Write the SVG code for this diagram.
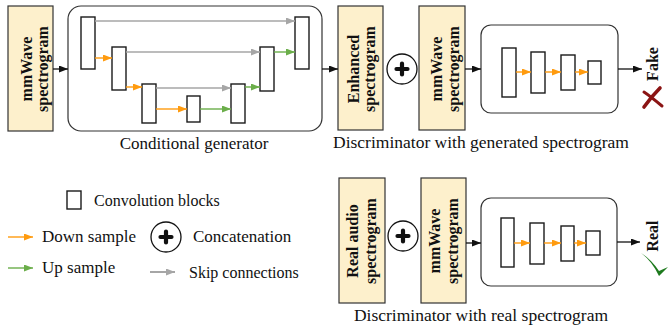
<svg xmlns="http://www.w3.org/2000/svg" width="668" height="329" viewBox="0 0 668 329">
<style>
.spec{fill:#FDF0CC;stroke:#333;stroke-width:1.2}
.frame{fill:#fff;stroke:#333;stroke-width:1.2}
.blk{fill:#fff;stroke:#1a1a1a;stroke-width:1.4}
.lbl{font-family:"Liberation Serif",serif;font-weight:bold;font-size:16px;fill:#111;text-anchor:middle}
.cap{font-family:"Liberation Serif",serif;font-size:17px;fill:#111}
.leg{font-family:"Liberation Serif",serif;font-size:16.5px;fill:#111}
.blk-c{fill:#fff;stroke:#1a1a1a;stroke-width:1.3}
.or{stroke:#FF9B0F;stroke-width:1.4;fill:none;marker-end:url(#mo)}
.gr{stroke:#6BAE4A;stroke-width:1.4;fill:none;marker-end:url(#mg)}
.gy{stroke:#A6A6A6;stroke-width:1.4;fill:none;marker-end:url(#my)}
.bk{stroke:#111;stroke-width:1.3;fill:none;marker-end:url(#mk)}
.cat circle{fill:#fff;stroke:#111;stroke-width:1.3}
.cat path{stroke:#111;stroke-width:4.2;stroke-linecap:round;fill:none}
</style>
<defs>
<marker id="mo" markerUnits="userSpaceOnUse" markerWidth="9" markerHeight="7" refX="9" refY="3.5" orient="auto"><path d="M0,0 L9,3.5 L0,7 z" fill="#FF9B0F"/></marker>
<marker id="mg" markerUnits="userSpaceOnUse" markerWidth="9" markerHeight="7" refX="9" refY="3.5" orient="auto"><path d="M0,0 L9,3.5 L0,7 z" fill="#6BAE4A"/></marker>
<marker id="my" markerUnits="userSpaceOnUse" markerWidth="9" markerHeight="7" refX="9" refY="3.5" orient="auto"><path d="M0,0 L9,3.5 L0,7 z" fill="#A6A6A6"/></marker>
<marker id="mk" markerUnits="userSpaceOnUse" markerWidth="9" markerHeight="7" refX="9" refY="3.5" orient="auto"><path d="M0,0 L9,3.5 L0,7 z" fill="#111"/></marker>
</defs>

<!-- Top row -->
<g id="mmwave-in">
<rect class="spec" x="8" y="6" width="45" height="125"/>
<text class="lbl" transform="translate(32,69) rotate(-90)">mmWave</text>
<text class="lbl" transform="translate(48,69) rotate(-90)">spectrogram</text>
</g>

<g id="generator">
<rect class="frame" x="68" y="6" width="254" height="125" rx="13"/>
<rect class="blk" x="81" y="17" width="14" height="52"/>
<rect class="blk" x="112" y="47" width="14" height="43"/>
<rect class="blk" x="142" y="84" width="14" height="39"/>
<rect class="blk" x="187" y="96" width="13" height="26"/>
<rect class="blk" x="231" y="84" width="14" height="39"/>
<rect class="blk" x="260" y="47" width="14" height="44"/>
<rect class="blk" x="295" y="17" width="14" height="52"/>
<path class="or" d="M95,58 H112"/>
<path class="or" d="M126,87 H142"/>
<path class="or" d="M156,109 H187"/>
<path class="gr" d="M200,109 H231"/>
<path class="gr" d="M245,87 H260"/>
<path class="gr" d="M274,52 H295"/>
<path class="gy" d="M95,21 H295"/>
<path class="gy" d="M126,52 H260"/>
<path class="gy" d="M156,88 H231"/>
</g>
<text class="cap" x="194" y="149" text-anchor="middle">Conditional generator</text>

<g id="enhanced">
<rect class="spec" x="338" y="6" width="45" height="124"/>
<text class="lbl" transform="translate(359,69) rotate(-90)">Enhanced</text>
<text class="lbl" transform="translate(375,69) rotate(-90)">spectrogram</text>
</g>

<g id="concat-top" class="cat">
<circle cx="402" cy="69" r="15"/>
<path d="M402,63.5 V74.5 M396.5,69 H407.5"/>
</g>

<g id="mmwave-top">
<rect class="spec" x="419" y="6" width="46" height="124"/>
<text class="lbl" transform="translate(442,69) rotate(-90)">mmWave</text>
<text class="lbl" transform="translate(459,69) rotate(-90)">spectrogram</text>
</g>

<g id="disc-top">
<rect class="frame" x="481" y="25" width="137" height="88" rx="10"/>
<rect class="blk" x="502" y="48" width="14" height="49"/>
<rect class="blk" x="531" y="52" width="14" height="41"/>
<rect class="blk" x="561" y="55" width="14" height="35"/>
<rect class="blk" x="588" y="61" width="13" height="23"/>
<path class="or" d="M516,72 H531"/>
<path class="or" d="M545,72 H561"/>
<path class="or" d="M575,72 H588"/>
</g>
<text class="cap" x="481" y="148" text-anchor="middle" style="font-size:17.5px">Discriminator with generated spectrogram</text>

<g id="fake">
<text class="lbl" transform="translate(658,64) rotate(-90)">Fake</text>
<path d="M660,88 C655,93 649,100 644,107" stroke="#8B1414" stroke-width="3.6" stroke-linecap="round" fill="none"/>
<path d="M644,92 C650,96 656,101 662,106" stroke="#8B1414" stroke-width="3" stroke-linecap="round" fill="none"/>
</g>

<!-- Bottom row -->
<g id="real-audio">
<rect class="spec" x="339" y="178" width="46" height="125"/>
<text class="lbl" transform="translate(358,241) rotate(-90)">Real audio</text>
<text class="lbl" transform="translate(376,241) rotate(-90)">spectrogram</text>
</g>

<g id="concat-bottom" class="cat">
<circle cx="403" cy="236" r="15"/>
<path d="M403,230.5 V241.5 M397.5,236 H408.5"/>
</g>

<g id="mmwave-bottom">
<rect class="spec" x="421" y="178" width="45" height="125"/>
<text class="lbl" transform="translate(440,241) rotate(-90)">mmWave</text>
<text class="lbl" transform="translate(458,241) rotate(-90)">spectrogram</text>
</g>

<g id="disc-bottom">
<rect class="frame" x="481" y="198" width="136" height="88" rx="10"/>
<rect class="blk" x="501" y="218" width="13" height="49"/>
<rect class="blk" x="530" y="223" width="14" height="41"/>
<rect class="blk" x="561" y="226" width="13" height="35"/>
<rect class="blk" x="586" y="231" width="14" height="24"/>
<path class="or" d="M514,243 H530"/>
<path class="or" d="M544,243 H561"/>
<path class="or" d="M574,243 H586"/>
</g>
<text class="cap" x="481" y="321" text-anchor="middle" style="font-size:17.5px">Discriminator with real spectrogram</text>

<g id="real">
<text class="lbl" transform="translate(658,236) rotate(-90)">Real</text>
<path d="M641,253 Q652,261 659,276 L668,267 L659,271 Q651,259 641,253 Z" fill="#1E7A1E"/>
</g>

<!-- Connectors -->
<g id="connectors">
<path class="bk" d="M53,69 H68"/>
<path class="bk" d="M322,69 H338"/>
<path class="bk" d="M465,69 H481"/>
<path class="bk" d="M618,69 H642"/>
<path class="bk" d="M466,243 H481"/>
<path class="bk" d="M617,242 H640"/>
</g>

<!-- Legend -->
<g id="legend">
<rect class="blk" x="67" y="191" width="14" height="18"/>
<text class="leg" x="94" y="206" style="font-size:16px">Convolution blocks</text>
<path class="or" d="M8,237 H33"/>
<text class="leg" x="42" y="242" style="font-size:17px">Down sample</text>
<g class="cat">
<circle cx="166" cy="237" r="15"/>
<path d="M166,231.5 V242.5 M160.5,237 H171.5"/>
</g>
<text class="leg" x="193" y="242" style="font-size:17px">Concatenation</text>
<path class="gr" d="M8,268 H33"/>
<text class="leg" x="42" y="273" style="font-size:17px">Up sample</text>
<path class="gy" d="M150,272 H175" style="stroke-width:2"/>
<text class="leg" x="189" y="278" style="font-size:16px">Skip connections</text>
</g>
</svg>
